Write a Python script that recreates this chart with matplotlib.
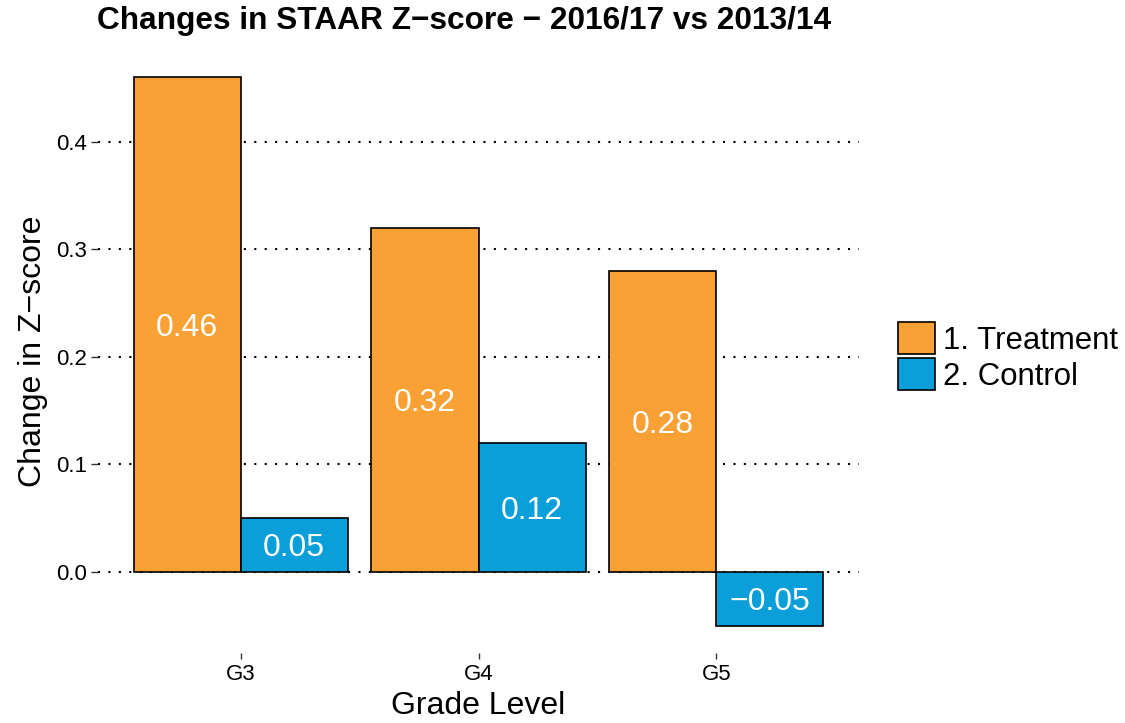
import numpy as np
import matplotlib
matplotlib.use("Agg")
import matplotlib.pyplot as plt

plt.rcParams['font.family'] = ['Liberation Sans', 'DejaVu Sans']

# data
grades = ["G3", "G4", "G5"]
treatment = [0.46, 0.32, 0.28]
control = [0.05, 0.12, -0.05]
series_names = ["1. Treatment", "2. Control"]
yticks = [0.0, 0.1, 0.2, 0.3, 0.4]

c_orange = "#F9A134"
c_blue = "#0A9FD9"


def fmt(v):
    s = f"{v:.2f}"
    return s.replace("-", "\u2212")


fig = plt.figure(figsize=(11.25, 7.23), dpi=100)
ax = fig.add_axes([98 / 1125, 1 - 653 / 723, (859 - 98) / 1125, (653 - 50) / 723])

x = np.arange(len(grades))
w = 0.45

# dotted grid behind bars
for t in yticks:
    ax.axhline(t, color="black", linestyle=(0, (1, 4)), linewidth=1.5, zorder=0)

b1 = ax.bar(x - w / 2, treatment, width=w, color=c_orange, edgecolor="black",
            linewidth=1.2, label=series_names[0], zorder=2)
b2 = ax.bar(x + w / 2, control, width=w, color=c_blue, edgecolor="black",
            linewidth=1.2, label=series_names[1], zorder=2)

for xs, vals in ((x - w / 2, treatment), (x + w / 2, control)):
    for xi, v in zip(xs, vals):
        ax.text(xi, v / 2, fmt(v), ha="center", va="center_baseline", color="white",
                fontsize=23, zorder=3)

ax.set_xlim(-0.6, 2.6)
ax.set_ylim(-0.0755, 0.4855)
ax.set_xticks(x)
ax.set_xticklabels(grades)
ax.set_yticks(yticks)
ax.set_yticklabels([f"{t:.1f}" for t in yticks])
ax.tick_params(axis="y", length=5, width=1, color="#333333", labelsize=16, pad=3)
ax.tick_params(axis="x", length=4, width=1, color="#333333", labelsize=16, pad=4)
for s in ax.spines.values():
    s.set_visible(False)

ax.set_xlabel("Grade Level", fontsize=23, labelpad=4)
ax.set_ylabel("Change in Z\u2212score", fontsize=23, labelpad=6)

fig.text(97 / 1125, 1 - 21 / 723, "Changes in STAAR Z\u2212score \u2212 2016/17 vs 2013/14",
         fontsize=22.8, fontweight="bold", ha="left", va="center")

leg = fig.legend(handles=[b1, b2], labels=series_names, loc="center left",
                 bbox_to_anchor=(898 / 1125, 1 - 357 / 723), frameon=False,
                 fontsize=22.4, handlelength=1.2, handleheight=1.2,
                 labelspacing=0.08, handletextpad=0.25, borderaxespad=0,
                 borderpad=0)

plt.savefig("out.png", dpi=100)
